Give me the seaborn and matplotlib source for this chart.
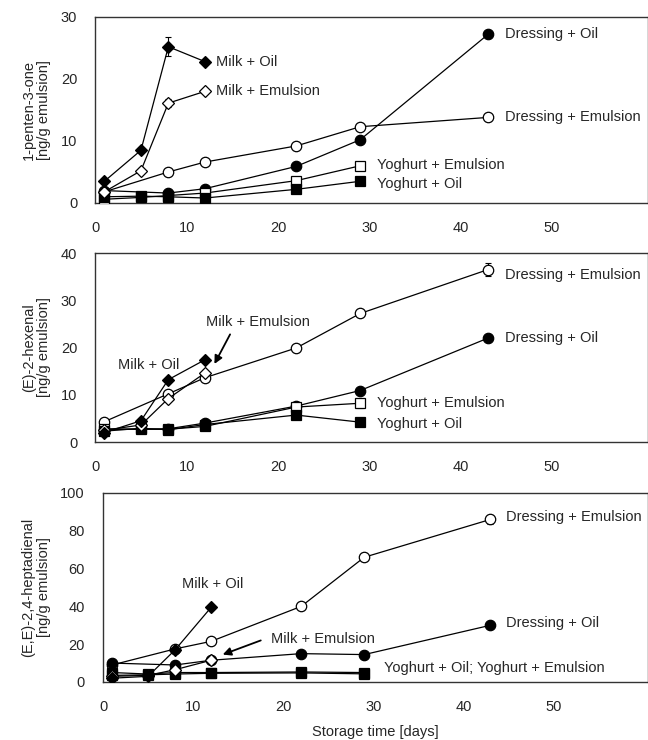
import matplotlib
matplotlib.use("Agg")
import matplotlib.pyplot as plt
import pandas as pd
import seaborn as sns

# storage days per product
milk_days = [1, 5, 8, 12]
yog_days = [1, 5, 8, 12, 22, 29]
dres_days = [1, 8, 12, 22, 29, 43]

# 1-penten-3-one
p1_milk_oil = [3.5, 8.5, 25.2, 22.8]
p1_milk_emul = [1.8, 5.2, 16.1, 18.0]
p1_dres_emul = [1.8, 5.0, 6.6, 9.2, 12.3, 13.8]
p1_dres_oil = [2.0, 1.6, 2.3, 5.9, 10.2, 27.2]
p1_yog_emul = [0.6, 0.9, 1.2, 1.6, 3.6, 6.0]
p1_yog_oil = [1.0, 1.1, 1.0, 0.8, 2.2, 3.5]
p1_milk_oil_err = [0.2, 0.3, 1.5, 0.3]
p1_milk_emul_err = [0.2, 0.4, 0.6, 0.3]
p1_dres_emul_err = [0.2, 0.3, 0.5, 0.3, 0.3, 0.5]
p1_dres_oil_err = [0.2, 0.2, 0.2, 0.3, 0.6, 0.5]
p1_yog_emul_err = [0.1, 0.1, 0.1, 0.2, 0.3, 0.3]
p1_yog_oil_err = [0.1, 0.1, 0.1, 0.1, 0.2, 0.2]

# (E)-2-hexenal
p2_milk_oil = [2.0, 4.5, 13.2, 17.4]
p2_milk_emul = [2.5, 3.6, 9.2, 14.6]
p2_dres_emul = [4.3, 10.2, 13.6, 19.9, 27.2, 36.5]
p2_dres_oil = [2.6, 2.8, 4.0, 7.6, 10.9, 22.0]
p2_yog_emul = [2.8, 2.7, 2.7, 3.3, 7.4, 8.2]
p2_yog_oil = [2.3, 2.9, 2.6, 3.7, 5.7, 4.2]
p2_milk_oil_err = [0.3, 0.3, 0.4, 0.4]
p2_milk_emul_err = [0.3, 0.3, 0.5, 0.6]
p2_dres_emul_err = [0.4, 0.5, 0.5, 0.5, 0.5, 1.3]
p2_dres_oil_err = [0.2, 0.2, 0.3, 0.4, 0.4, 0.4]
p2_yog_emul_err = [0.2, 0.2, 0.2, 0.3, 0.5, 0.9]
p2_yog_oil_err = [0.2, 0.2, 0.2, 0.2, 0.3, 0.3]

# (E,E)-2,4-heptadienal
p3_milk_oil = [2.0, 3.0, 17.0, 39.5]
p3_milk_emul = [3.0, 3.5, 6.5, 11.5]
p3_dres_emul = [9.0, 17.5, 21.5, 40.0, 66.0, 86.0]
p3_dres_oil = [10.0, 9.0, 11.5, 15.0, 14.5, 30.0]
p3_yog_emul = [3.5, 3.8, 4.2, 4.6, 4.8, 4.3]
p3_yog_oil = [5.0, 4.2, 5.0, 5.0, 5.3, 5.0]
p3_milk_oil_err = [0.3, 0.3, 0.5, 0.8]
p3_milk_emul_err = [0.3, 0.3, 0.5, 0.6]
p3_dres_emul_err = [0.5, 0.8, 1.0, 1.0, 2.2, 2.2]
p3_dres_oil_err = [0.5, 0.5, 0.5, 0.6, 0.6, 0.8]
p3_yog_emul_err = [0.3, 0.3, 0.3, 0.3, 0.3, 0.3]
p3_yog_oil_err = [0.3, 0.3, 0.3, 0.3, 0.3, 0.3]

ylabels = ["1-penten-3-one\n[ng/g emulsion]",
           "(E)-2-hexenal\n[ng/g emulsion]",
           "(E,E)-2,4-heptadienal\n[ng/g emulsion]"]
ylims = [(0, 30), (0, 40), (0, 100)]
yticks = [[0, 10, 20, 30], [0, 10, 20, 30, 40], [0, 20, 40, 60, 80, 100]]

sns.set_style("white")
plt.rcParams["font.family"] = ["Liberation Sans", "DejaVu Sans"]
plt.rcParams["font.size"] = 10.5

fig = plt.figure(figsize=(6.48, 7.4), dpi=100)
axes = [fig.add_axes([0.147, 0.7257, 0.853, 0.2514]),
        fig.add_axes([0.147, 0.4027, 0.853, 0.2554]),
        fig.add_axes([0.159, 0.0784, 0.841, 0.2554])]

# (days, values, errors, marker, filled) per series, in drawing order
panels = [
    [(dres_days, p1_dres_emul, p1_dres_emul_err, "o", False),
     (dres_days, p1_dres_oil, p1_dres_oil_err, "o", True),
     (yog_days, p1_yog_emul, p1_yog_emul_err, "s", False),
     (yog_days, p1_yog_oil, p1_yog_oil_err, "s", True),
     (milk_days, p1_milk_emul, p1_milk_emul_err, "D", False),
     (milk_days, p1_milk_oil, p1_milk_oil_err, "D", True)],
    [(dres_days, p2_dres_emul, p2_dres_emul_err, "o", False),
     (dres_days, p2_dres_oil, p2_dres_oil_err, "o", True),
     (yog_days, p2_yog_emul, p2_yog_emul_err, "s", False),
     (yog_days, p2_yog_oil, p2_yog_oil_err, "s", True),
     (milk_days, p2_milk_emul, p2_milk_emul_err, "D", False),
     (milk_days, p2_milk_oil, p2_milk_oil_err, "D", True)],
    [(dres_days, p3_dres_emul, p3_dres_emul_err, "o", False),
     (dres_days, p3_dres_oil, p3_dres_oil_err, "o", True),
     (yog_days, p3_yog_emul, p3_yog_emul_err, "s", False),
     (yog_days, p3_yog_oil, p3_yog_oil_err, "s", True),
     (milk_days, p3_milk_emul, p3_milk_emul_err, "D", False),
     (milk_days, p3_milk_oil, p3_milk_oil_err, "D", True)],
]

for ax, series, ylab, ylim, yt in zip(axes, panels, ylabels, ylims, yticks):
    for days, vals, errs, mk, filled in series:
        df = pd.DataFrame({"day": days, "value": vals})
        ax.errorbar(days, vals, yerr=errs, fmt="none", ecolor="black",
                    elinewidth=0.8, capsize=2.5, capthick=0.8, zorder=2)
        sns.lineplot(data=df, x="day", y="value", ax=ax, color="black",
                     linewidth=0.9, marker=mk,
                     markersize=6.5 if mk == "D" else 7.5,
                     markerfacecolor="black" if filled else "white",
                     markeredgecolor="black", markeredgewidth=0.9,
                     zorder=3)
    ax.set_xlim(0, 60.5)
    ax.set_ylim(*ylim)
    ax.set_yticks(yt)
    ax.set_xticks([0, 10, 20, 30, 40, 50])
    ax.set_ylabel(ylab, fontsize=10.5, labelpad=7, linespacing=1.1)
    ax.set_xlabel("")
    ax.tick_params(axis="x", direction="in", length=3, pad=13, labelsize=10.5)
    ax.tick_params(axis="y", length=0, pad=13, labelsize=10.5)
    for sp in ax.spines.values():
        sp.set_color("#333333")
        sp.set_linewidth(1.0)

fs = 10.5
a1, a2, a3 = axes
a1.text(13.2, 22.8, "Milk + Oil", va="center", fontsize=fs)
a1.text(13.2, 18.0, "Milk + Emulsion", va="center", fontsize=fs)
a1.text(44.8, 27.3, "Dressing + Oil", va="center", fontsize=fs)
a1.text(44.8, 13.8, "Dressing + Emulsion", va="center", fontsize=fs)
a1.text(30.8, 6.1, "Yoghurt + Emulsion", va="center", fontsize=fs)
a1.text(30.8, 3.0, "Yoghurt + Oil", va="center", fontsize=fs)

a2.text(44.8, 35.3, "Dressing + Emulsion", va="center", fontsize=fs)
a2.text(44.8, 22.0, "Dressing + Oil", va="center", fontsize=fs)
a2.text(30.8, 8.2, "Yoghurt + Emulsion", va="center", fontsize=fs)
a2.text(30.8, 3.8, "Yoghurt + Oil", va="center", fontsize=fs)
a2.text(12.1, 25.4, "Milk + Emulsion", va="center", fontsize=fs)
a2.text(5.9, 16.3, "Milk + Oil", va="center", ha="center", fontsize=fs)
a2.annotate("", xy=(12.9, 16.0), xytext=(14.9, 23.3),
            arrowprops=dict(arrowstyle="-|>", color="black", lw=1.3,
                            mutation_scale=12))

a3.text(12.2, 52, "Milk + Oil", va="center", ha="center", fontsize=fs)
a3.text(18.6, 22.5, "Milk + Emulsion", va="center", fontsize=fs)
a3.annotate("", xy=(13.0, 14.0), xytext=(17.8, 22.5),
            arrowprops=dict(arrowstyle="-|>", color="black", lw=1.3,
                            mutation_scale=12))
a3.text(44.7, 87.5, "Dressing + Emulsion", va="center", fontsize=fs)
a3.text(44.7, 31.0, "Dressing + Oil", va="center", fontsize=fs)
a3.text(31.2, 7.5, "Yoghurt + Oil; Yoghurt + Emulsion", va="center", fontsize=fs)
a3.set_xlabel("Storage time [days]", fontsize=10.5, labelpad=8)

fig.savefig("out.png", dpi=100)
